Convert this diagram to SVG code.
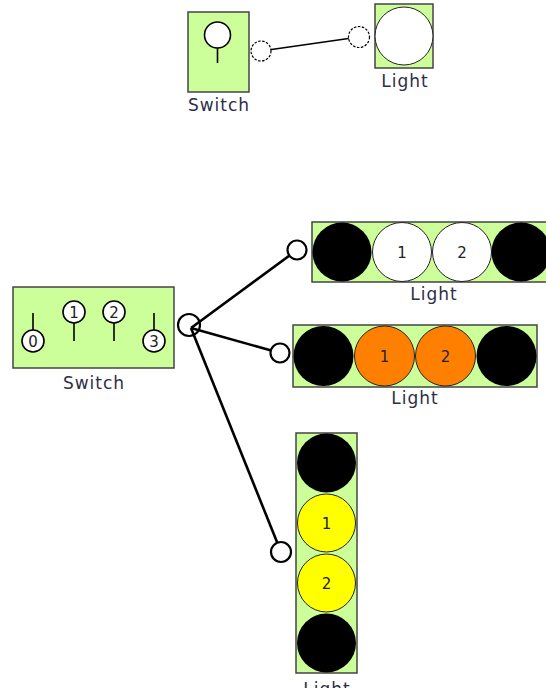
<svg xmlns="http://www.w3.org/2000/svg" width="546" height="688" viewBox="0 0 546 688">
<style>
.box{fill:#ccff99;stroke:#444;stroke-width:1.5}
.lbl{font-family:"DejaVu Sans",Verdana,sans-serif;font-size:17px;letter-spacing:1px;fill:#2e2e48;text-anchor:middle}
.num{font-family:"DejaVu Sans",Verdana,sans-serif;font-size:15px;fill:#222;text-anchor:middle}
.knob{fill:#fff;stroke:#000;stroke-width:1.6}
.stem{stroke:#000;stroke-width:1.6}
.off{fill:#000}
.white{fill:#fff;stroke:#222;stroke-width:1}
.orange{fill:#ff8000;stroke:#222;stroke-width:1}
.yellow{fill:#ffff00;stroke:#222;stroke-width:1}
.pin{fill:#fff;stroke:#000;stroke-width:1.2;stroke-dasharray:2.5 1.5}
.pin2{fill:#fff;stroke:#000;stroke-width:2.2}
.wire{stroke:#000;stroke-width:1.6;fill:none}
.wire2{stroke:#000;stroke-width:2.6;fill:none}
</style>
<rect width="546" height="688" fill="#fff"/>
<g id="switch1">
<rect class="box" x="188" y="12" width="61" height="80"/>
<line class="stem" x1="217.5" y1="47" x2="217.5" y2="63"/>
<circle class="knob" cx="217.5" cy="35" r="13"/>
<text class="lbl" x="219" y="111">Switch</text>
</g>
<g id="light1">
<rect class="box" x="375" y="4" width="58" height="64"/>
<circle class="white" cx="404" cy="36" r="29"/>
<text class="lbl" x="405" y="87">Light</text>
</g>
<g id="switch2">
<rect class="box" x="13" y="287" width="161" height="81"/>
<line class="stem" x1="33" y1="313" x2="33" y2="331"/>
<circle class="knob" cx="33" cy="341" r="11"/>
<text class="num" x="33" y="346.5">0</text>
<line class="stem" x1="74" y1="322" x2="74" y2="341"/>
<circle class="knob" cx="74" cy="312" r="11"/>
<text class="num" x="74" y="317.5">1</text>
<line class="stem" x1="114" y1="322" x2="114" y2="341"/>
<circle class="knob" cx="114" cy="312" r="11"/>
<text class="num" x="114" y="317.5">2</text>
<line class="stem" x1="154" y1="313" x2="154" y2="331"/>
<circle class="knob" cx="154" cy="341" r="11"/>
<text class="num" x="154" y="346.5">3</text>
<text class="lbl" x="94" y="389">Switch</text>
</g>
<g id="light2">
<rect class="box" x="312" y="222" width="240" height="60"/>
<circle class="off" cx="342" cy="252" r="29.5"/>
<circle class="white" cx="402" cy="252" r="29.5"/>
<circle class="white" cx="462" cy="252" r="29.5"/>
<circle class="off" cx="521" cy="252" r="29.5"/>
<text class="num" x="402" y="257.5">1</text>
<text class="num" x="462" y="257.5">2</text>
<text class="lbl" x="434" y="300">Light</text>
</g>
<g id="light3">
<rect class="box" x="293" y="325" width="244" height="62"/>
<circle class="off" cx="323.5" cy="356" r="30"/>
<circle class="orange" cx="384.5" cy="356" r="30"/>
<circle class="orange" cx="445.5" cy="356" r="30"/>
<circle class="off" cx="506.5" cy="356" r="30"/>
<text class="num" x="384.5" y="361.5">1</text>
<text class="num" x="445.5" y="361.5">2</text>
<text class="lbl" x="415" y="404">Light</text>
</g>
<g id="light4">
<rect class="box" x="296" y="433" width="61" height="240"/>
<circle class="off" cx="326.5" cy="463" r="29.5"/>
<circle class="yellow" cx="326.5" cy="523" r="29"/>
<circle class="yellow" cx="326.5" cy="583" r="29"/>
<circle class="off" cx="326.5" cy="643" r="29.5"/>
<text class="num" x="326.5" y="528.5">1</text>
<text class="num" x="326.5" y="588.5">2</text>
<text class="lbl" x="327" y="695">Light</text>
</g>
<g id="connectors">
<line class="wire" x1="261" y1="51" x2="359" y2="37"/>
<circle class="pin" cx="261" cy="51" r="10"/>
<circle class="pin" cx="359" cy="37" r="10.5"/>
<line class="wire2" x1="191" y1="328" x2="297" y2="250"/>
<line class="wire2" x1="191" y1="328" x2="280" y2="353"/>
<line class="wire2" x1="191" y1="328" x2="281" y2="552"/>
<circle class="pin2" cx="189" cy="325" r="11" style="fill:none"/>
<circle class="pin2" cx="297" cy="250" r="9.5"/>
<circle class="pin2" cx="280" cy="353" r="9.5"/>
<circle class="pin2" cx="281" cy="552" r="10"/>
</g>
</svg>
